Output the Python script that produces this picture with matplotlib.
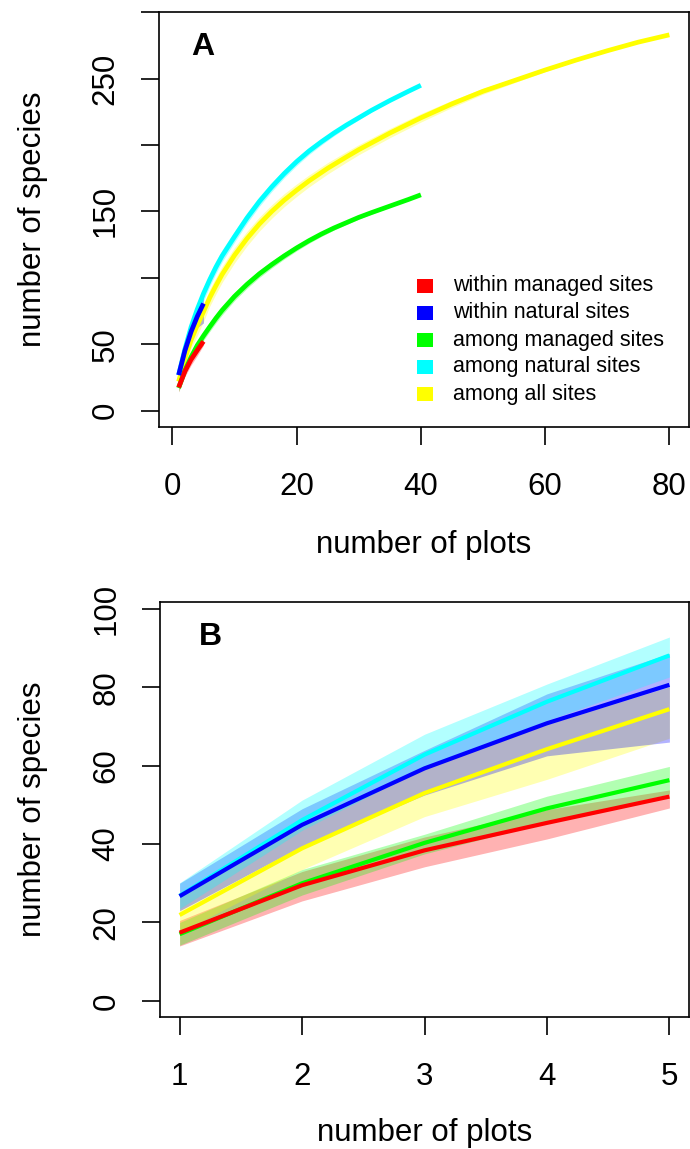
import matplotlib
matplotlib.use("Agg")
import matplotlib.pyplot as plt
from matplotlib.patches import Rectangle

plt.rcParams['font.family'] = ['Liberation Sans', 'DejaVu Sans']

# ---------------- data ----------------
labels = ["within managed sites", "within natural sites", "among managed sites",
          "among natural sites", "among all sites"]
colors = ["#FF0000", "#0000FF", "#00FF00", "#00FFFF", "#FFFF00"]

# within-site rarefaction (1..5 plots)
x_within = [1, 2, 3, 4, 5]
red_mean = [17.4, 29.5, 38.4, 45.4, 52.1]
red_lo = [14.0, 25.5, 34.2, 41.3, 49.2]
red_hi = [20.5, 33.0, 41.8, 48.8, 53.8]
blue_mean = [26.7, 44.9, 59.3, 70.8, 80.6]
blue_lo = [23.0, 39.5, 52.5, 62.5, 66.0]
blue_hi = [30.0, 49.0, 63.9, 78.3, 88.6]

# among managed sites (green)
x_green = [1, 2, 3, 4, 5, 6, 7, 8, 10, 12, 14, 16, 18, 20, 22, 24, 26, 28, 30, 32, 35, 38, 40]
green_mean = [17.0, 30.0, 40.3, 49.1, 56.3, 63, 69.5, 75.5, 86, 95, 103, 110, 116.5, 122.5,
              128, 133, 137.5, 141.5, 145.5, 149, 154, 159, 162.5]
green_lo = [14.2, 27.0, 37.5, 45.5, 52.8, 59.5, 66, 72, 82.8, 92, 100.2, 107.4, 114.1, 120.3,
            126, 131.2, 135.9, 140.1, 144.2, 147.9, 153.2, 158.5, 162.5]
green_hi = [20.0, 33.5, 42.5, 52.2, 59.8, 66.5, 73, 79, 89.2, 98, 105.8, 112.6, 118.9, 124.7,
            130, 134.8, 139.1, 142.9, 146.8, 150.1, 154.8, 159.5, 162.5]

# among natural sites (cyan)
x_cyan = [1, 2, 3, 4, 5, 6, 7, 8, 10, 12, 14, 16, 18, 20, 22, 24, 26, 28, 30, 32, 35, 38, 40]
cyan_mean = [26.8, 46.1, 62.8, 76.3, 88.1, 98.5, 108, 116.5, 131, 145, 157.5, 168.5, 178.5,
             187.5, 195.5, 202.5, 209, 215, 220.5, 226, 233.5, 240.5, 245]
cyan_lo = [23.5, 43.5, 59.5, 71.5, 82.6, 93.5, 103.2, 112, 126.8, 141, 153.8, 165, 175.3,
           184.5, 192.8, 200.1, 206.9, 213.2, 219, 224.8, 232.7, 240.1, 245]
cyan_hi = [30.1, 51.2, 68.0, 80.8, 92.8, 103.5, 112.8, 121, 135.2, 149, 161.2, 172, 181.7,
           190.5, 198.2, 204.9, 211.1, 216.8, 222, 227.2, 234.3, 240.9, 245]

# among all sites (yellow)
x_yellow = [1, 2, 3, 4, 5, 6, 7, 8, 10, 12, 14, 16, 18, 20, 22, 25, 28, 30, 35, 40, 45, 50,
            55, 60, 65, 70, 75, 80]
yellow_mean = [21.9, 38.9, 53.0, 64.2, 74.4, 85, 94, 102.5, 117, 129.5, 140.5, 150, 158.5, 166,
               173, 182.5, 191, 196.5, 209, 220.5, 231, 240.5, 248.5, 256.5, 264, 271, 277.5, 283]
yellow_lo = [17.5, 33.5, 47.0, 56.5, 67.0, 78.5, 87.8, 96.5, 111.2, 124, 135.2, 144.9, 153.6,
             161.3, 168.5, 178.2, 187, 192.7, 205.5, 217.3, 228.3, 238.3, 246.8, 255.3, 263.2,
             270.5, 277.3, 283]
yellow_hi = [26.5, 45.0, 59.5, 70.5, 80.1, 91.5, 100.2, 108.5, 122.8, 135, 145.8, 155.1, 163.4,
             170.7, 177.5, 186.8, 195, 200.3, 212.5, 223.7, 233.7, 242.7, 250.2, 257.7, 264.8,
             271.5, 277.7, 283]

# number of plots shown in panel B
nB = 5

xticksA = [0, 20, 40, 60, 80]
yticksA = [0, 50, 100, 150, 200, 250, 300]
yticklabelsA = ["0", "50", "", "150", "", "250", ""]
xticksB = [1, 2, 3, 4, 5]
yticksB = [0, 20, 40, 60, 80, 100]

series = [
    (x_within, red_mean, red_lo, red_hi, colors[0]),
    (x_within, blue_mean, blue_lo, blue_hi, colors[1]),
    (x_green, green_mean, green_lo, green_hi, colors[2]),
    (x_cyan, cyan_mean, cyan_lo, cyan_hi, colors[3]),
    (x_yellow, yellow_mean, yellow_lo, yellow_hi, colors[4]),
]
band_order = [0, 2, 4, 1, 3]
line_order = [4, 3, 2, 0, 1]

W, H = 690, 1149
fig = plt.figure(figsize=(W / 100, H / 100), dpi=100)

def px_axes(left, right, top, bottom):
    return fig.add_axes([left / W, 1 - bottom / H, (right - left) / W, (bottom - top) / H])

axA = px_axes(159, 689, 12, 427)
axB = px_axes(160, 689, 601.7, 1017)

FS = 22.5
TICKLEN = 13

def style(ax, xticks, yticks, yticklabels):
    for s in ax.spines.values():
        s.set_linewidth(1.2)
        s.set_color("black")
    ax.set_xticks(xticks)
    ax.set_yticks(yticks)
    ax.set_yticklabels(yticklabels)
    ax.tick_params(axis='both', direction='out', length=TICKLEN, width=1.2,
                   labelsize=FS, colors='black')
    ax.tick_params(axis='x', pad=30.5)
    ax.tick_params(axis='y', pad=25.5, labelrotation=90)
    for lab in ax.get_yticklabels():
        lab.set_ha('center')
        lab.set_va('center')
    for lab in ax.get_xticklabels():
        lab.set_va('center')
    ax.set_xlabel("number of plots", fontsize=FS)
    ax.set_ylabel("number of species", fontsize=FS)
    ax.xaxis.label.set_va('center')
    ax.yaxis.label.set_va('center')

# ---------- panel A ----------
for i in band_order:
    xs, m, lo, hi, c = series[i]
    axA.fill_between(xs, lo, hi, color=c, alpha=0.3, linewidth=0)
for i in line_order:
    xs, m, lo, hi, c = series[i]
    axA.plot(xs, m, color=c, lw=3.4, solid_capstyle='butt')
axA.set_xlim(-2.16, 83.16)
axA.set_ylim(-12.4, 300.2)
style(axA, xticksA, yticksA, yticklabelsA)
axA.xaxis.set_label_coords(0.5, -0.2843)
axA.yaxis.set_label_coords(-0.2377, 0.5)
axA.text(0.083, 0.9157, "A", transform=axA.transAxes, fontsize=23,
         fontweight='bold', ha='center', va='center')

# legend (R-style filled squares)
rows_y = [0.3398, 0.2747, 0.2096, 0.1446, 0.0795]
for lab, c, yy in zip(labels, colors, rows_y):
    axA.add_patch(Rectangle((0.4868, yy - 0.0165), 0.0293, 0.033,
                            transform=axA.transAxes, facecolor=c,
                            edgecolor='none'))
    axA.text(0.5547, yy, lab, transform=axA.transAxes, fontsize=15.5,
             ha='left', va='center')

# ---------- panel B ----------
for i in band_order:
    xs, m, lo, hi, c = series[i]
    axB.fill_between(xs[:nB], lo[:nB], hi[:nB], color=c, alpha=0.3, linewidth=0)
for i in line_order:
    xs, m, lo, hi, c = series[i]
    axB.plot(xs[:nB], m[:nB], color=c, lw=3.0, solid_capstyle='butt')
axB.set_xlim(0.84, 5.16)
axB.set_ylim(-4.1, 101.8)
style(axB, xticksB, yticksB, [str(v) for v in yticksB])
axB.xaxis.set_label_coords(0.5, -0.2793)
axB.yaxis.set_label_coords(-0.2401, 0.5)
axB.text(0.0945, 0.915, "B", transform=axB.transAxes, fontsize=23,
         fontweight='bold', ha='center', va='center')

fig.savefig("out.png", dpi=100)
